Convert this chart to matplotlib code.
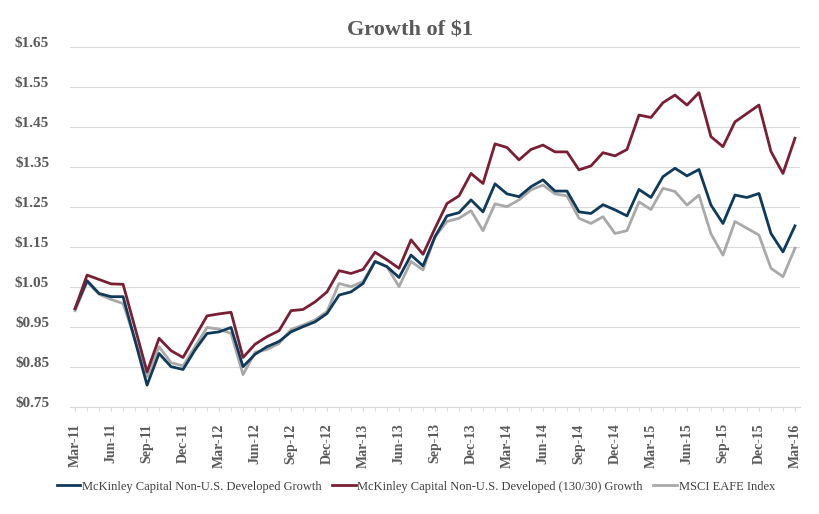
import matplotlib
matplotlib.use("Agg")
import matplotlib.pyplot as plt
from matplotlib.ticker import FuncFormatter
from matplotlib.transforms import ScaledTranslation
import numpy as np

# monthly values, Mar-11 .. Mar-16
GROWTH = [
    0.995, 1.065, 1.033, 1.025, 1.025, 0.915, 0.804, 0.883, 0.850, 0.843,
    0.892, 0.933, 0.937, 0.948, 0.850, 0.881, 0.900, 0.913, 0.937, 0.950,
    0.962, 0.983, 1.029, 1.037, 1.058, 1.113, 1.100, 1.073, 1.129, 1.102,
    1.175, 1.227, 1.235, 1.267, 1.237, 1.307, 1.282, 1.275, 1.300, 1.317,
    1.289, 1.289, 1.237, 1.233, 1.255, 1.242, 1.227, 1.293, 1.273, 1.325,
    1.346, 1.327, 1.343, 1.254, 1.208, 1.279, 1.273, 1.283, 1.183, 1.137,
    1.202,
]
GROWTH_130_30 = [
    0.995, 1.079, 1.068, 1.057, 1.056, 0.947, 0.837, 0.921, 0.890, 0.873,
    0.925, 0.977, 0.982, 0.986, 0.873, 0.906, 0.925, 0.940, 0.990, 0.993,
    1.012, 1.037, 1.090, 1.083, 1.093, 1.136, 1.117, 1.096, 1.167, 1.131,
    1.196, 1.258, 1.277, 1.333, 1.308, 1.407, 1.398, 1.367, 1.393, 1.404,
    1.387, 1.387, 1.342, 1.352, 1.385, 1.377, 1.393, 1.479, 1.473, 1.510,
    1.529, 1.504, 1.535, 1.425, 1.400, 1.462, 1.483, 1.504, 1.388, 1.333,
    1.421,
]
EAFE = [
    0.990, 1.062, 1.031, 1.018, 1.008, 0.917, 0.825, 0.900, 0.860, 0.852,
    0.900, 0.948, 0.944, 0.933, 0.830, 0.886, 0.893, 0.908, 0.943, 0.954,
    0.967, 0.988, 1.058, 1.050, 1.063, 1.113, 1.100, 1.050, 1.113, 1.092,
    1.175, 1.213, 1.221, 1.240, 1.190, 1.257, 1.250, 1.267, 1.292, 1.304,
    1.282, 1.277, 1.221, 1.208, 1.225, 1.183, 1.190, 1.262, 1.243, 1.296,
    1.288, 1.254, 1.279, 1.182, 1.129, 1.213, 1.196, 1.179, 1.096, 1.075,
    1.146,
]
TICK_LABELS = [
    "Mar-11", "Jun-11", "Sep-11", "Dec-11", "Mar-12", "Jun-12", "Sep-12",
    "Dec-12", "Mar-13", "Jun-13", "Sep-13", "Dec-13", "Mar-14", "Jun-14",
    "Sep-14", "Dec-14", "Mar-15", "Jun-15", "Sep-15", "Dec-15", "Mar-16",
]
SERIES_NAMES = [
    "McKinley Capital Non-U.S. Developed Growth",
    "McKinley Capital Non-U.S. Developed (130/30) Growth",
    "MSCI EAFE Index",
]

NAVY = "#0f3a5a"
MAROON = "#7a1f33"
GREY = "#a9a9a9"
TEXT = "#595959"

plt.rcParams["font.family"] = ["Liberation Serif", "DejaVu Serif"]

fig = plt.figure(figsize=(8.2, 5.14), dpi=100)
ax = fig.add_axes([0.0854, 0.2088, 0.8902, 0.7004])

x = np.arange(len(GROWTH))
l1, = ax.plot(x, GROWTH, color=NAVY, lw=2.0, zorder=3)
l2, = ax.plot(x, GROWTH_130_30, color=MAROON, lw=2.0, zorder=4)
l3, = ax.plot(x, EAFE, color=GREY, lw=2.0, zorder=2)

ax.set_xlim(-0.42, 60.42)
ax.set_ylim(0.75, 1.65)
ax.set_yticks(np.arange(0.75, 1.66, 0.10))
ax.yaxis.set_major_formatter(FuncFormatter(lambda v, _: f"${v:.2f}"))
ax.grid(axis="y", color="#d9d9d9", lw=0.8, zorder=0)

ax.set_xticks(np.arange(0, len(GROWTH), 3))
ax.set_xticklabels(TICK_LABELS, rotation=90, fontsize=10, fontweight="bold", color=TEXT)
ax.set_xticks(x, minor=True)
ax.tick_params(axis="x", which="both", length=3, color="#d9d9d9", pad=9)
ax.tick_params(axis="y", length=0, labelsize=11, labelcolor=TEXT, pad=15)
lift = ScaledTranslation(0, 3.5 / 72, fig.dpi_scale_trans)
for lab in ax.get_yticklabels():
    lab.set_fontweight("bold")
    lab.set_transform(lab.get_transform() + lift)

for side in ("top", "right", "left"):
    ax.spines[side].set_visible(False)
ax.spines["bottom"].set_color("#d9d9d9")

fig.text(0.5, 0.94, "Growth of $1", ha="center", va="center",
         fontsize=16, fontweight="bold", color=TEXT)

fig.legend([l1, l2, l3], SERIES_NAMES, loc="center", bbox_to_anchor=(0.507, 0.053),
           ncol=3, frameon=False, fontsize=9, handlelength=1.9, handletextpad=0.15,
           columnspacing=0.8, labelcolor="#404040")

fig.savefig("out.png", dpi=100)
